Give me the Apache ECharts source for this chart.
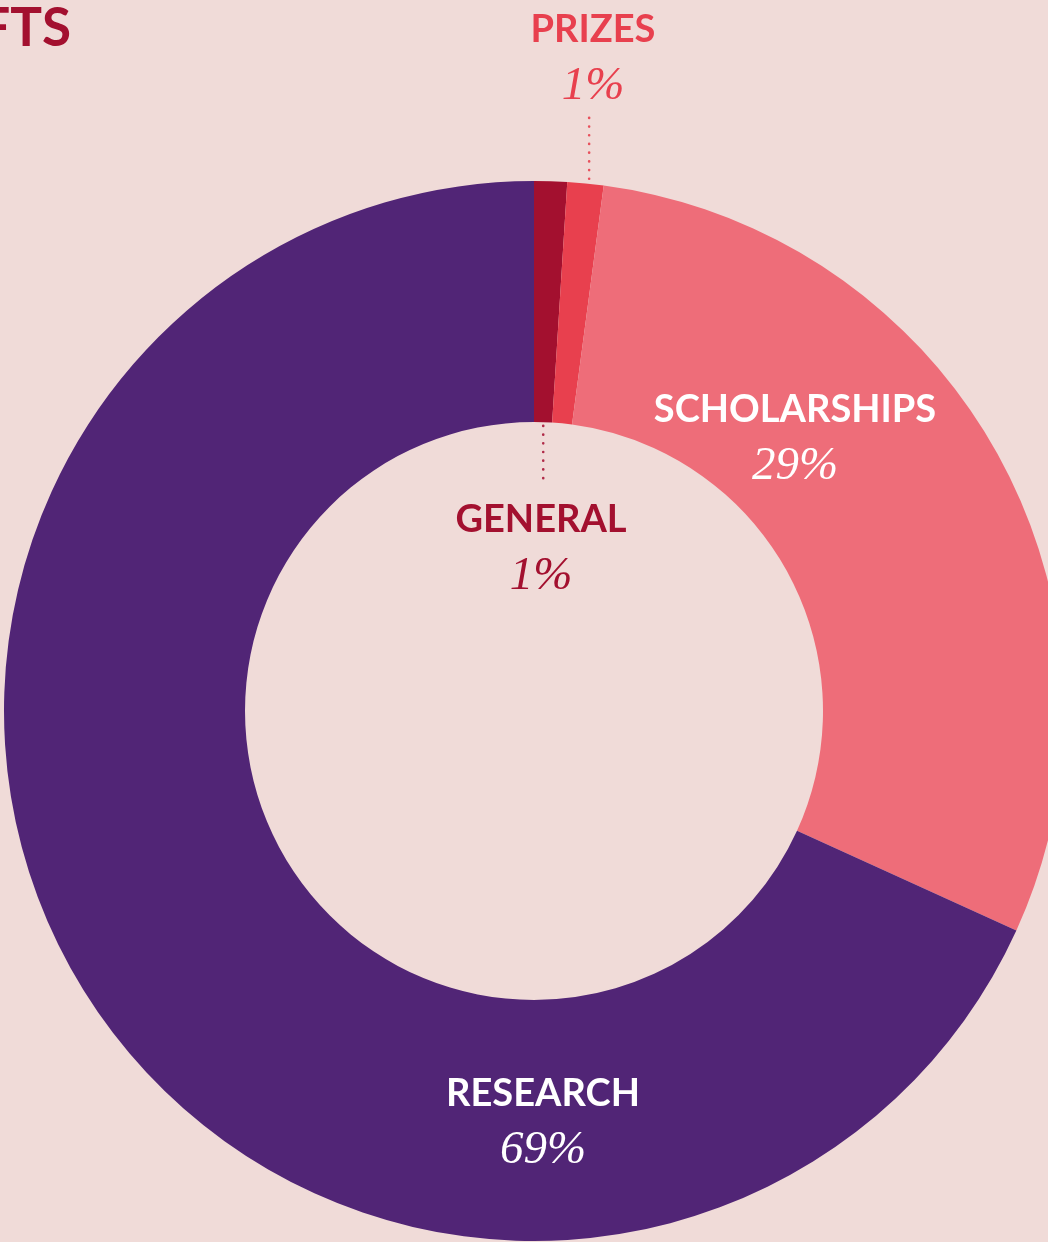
<!DOCTYPE html>
<html>
<head>
<meta charset="utf-8">
<script src="https://cdn.jsdelivr.net/npm/echarts@6/dist/echarts.min.js"></script>
<style>
  html, body { margin: 0; padding: 0; background: #f0dbd8; }
  #main { width: 1048px; height: 1242px; }
</style>
</head>
<body>
<div id="main"></div>
<script>
const categories = ['GENERAL', 'PRIZES', 'SCHOLARSHIPS', 'RESEARCH'];
const shares = [1.0, 1.1, 29.7, 68.2];
const printedPct = [1, 1, 29, 69];

const sliceColors = ['#a3102f', '#e8404e', '#ee6d79', '#512576'];
const textColors = ['#a3102f', '#e8404e', '#ffffff', '#ffffff'];
const labelAt = [[541, 548], [593, 58], [795, 438], [543, 1122]];

const CX = 534, CY = 711, R0 = 289, R1 = 530;

var chart = echarts.init(document.getElementById('main'));

// mid angle of a slice, measured clockwise from 12 o'clock
function midAngle(i) {
    var total = shares.reduce((a, b) => a + b, 0);
    var before = shares.slice(0, i).reduce((a, b) => a + b, 0);
    return (before + shares[i] / 2) / total * 2 * Math.PI;
}

function leader(i, r, yEnd, color, dx) {
    var a = midAngle(i);
    var x = CX + r * Math.sin(a) + dx;
    var y = CY - r * Math.cos(a);
    return {
        type: 'line',
        silent: true,
        shape: { x1: x, y1: y, x2: x, y2: yEnd },
        style: { stroke: color, lineWidth: 2.6, lineDash: [0.1, 8.6], lineCap: 'round' }
    };
}

var serif = '"Liberation Serif", "DejaVu Serif", serif';

var option = {
    backgroundColor: '#f0dbd8',
    animation: false,
    graphic: [
        {
            type: 'text',
            x: 71, y: 2,
            style: {
                text: 'GIFTS',
                align: 'right',
                fill: '#a3102f',
                font: 'bold 53px Lato'
            }
        },
        leader(1, R1 - 4, 113, '#e8505c', 4),
        leader(0, R0 + 5, 486, '#b02a48', 0)
    ],
    series: [
        {
            type: 'pie',
            center: [CX, CY],
            radius: [R0, R1],
            startAngle: 90,
            clockwise: true,
            silent: true,
            itemStyle: { borderWidth: 0 },
            data: categories.map((c, i) => ({
                name: c,
                value: shares[i],
                itemStyle: { color: sliceColors[i] },
                label: { color: textColors[i] }
            })),
            label: {
                show: true,
                position: 'inside',
                textBorderWidth: 0,
                formatter: p => '{n|' + p.name + '}\n{p|' + printedPct[p.dataIndex] + '%}',
                rich: {
                    n: { fontFamily: 'Lato', fontWeight: 'bold', fontSize: 38, lineHeight: 57 },
                    p: { fontFamily: serif, fontStyle: 'italic', fontWeight: 'normal', fontSize: 47, lineHeight: 57 }
                }
            },
            labelLine: { show: false },
            labelLayout: p => ({
                x: labelAt[p.dataIndex][0],
                y: labelAt[p.dataIndex][1],
                align: 'center',
                verticalAlign: 'middle'
            })
        }
    ]
};
chart.setOption(option);
</script>
</body>
</html>
